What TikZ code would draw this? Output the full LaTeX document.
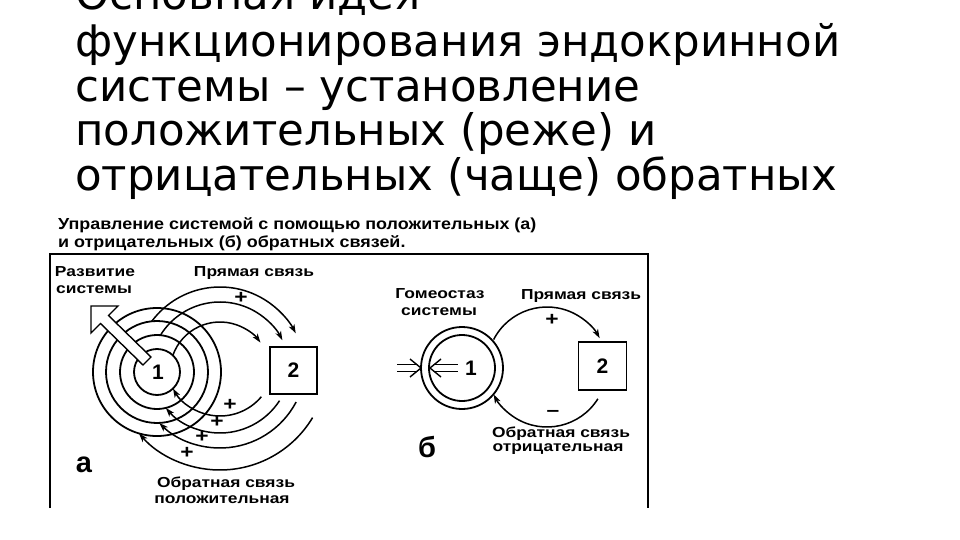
\documentclass[tikz,border=0pt]{standalone}
\usepackage{fontspec}
\setmainfont{DejaVu Sans}
\newfontfamily\capfont[FakeStretch=1.12]{Liberation Sans}
\newfontfamily\lblfont[FakeStretch=1.2]{Liberation Sans}
\newfontfamily\numfont{Liberation Sans}
\usetikzlibrary{arrows.meta,calc}
\tikzset{
  titletext/.style={anchor=base west, inner sep=0pt, font=\fontsize{43.5}{44}\selectfont},
  captext/.style={anchor=base west, inner sep=0pt, font=\capfont\bfseries\fontsize{16}{18}\selectfont},
  lbl/.style={inner sep=0pt, align=center, font=\lblfont\bfseries\fontsize{14.5}{18}\selectfont},
  numlbl/.style={inner sep=0pt, font=\numfont\bfseries\fontsize{21}{22}\selectfont},
  letterlbl/.style={inner sep=0pt, font=\numfont\bfseries\fontsize{29}{30}\selectfont},
  sign/.style={inner sep=0pt, font=\lblfont\bfseries\fontsize{19}{19}\selectfont},
  ring/.style={draw, line width=1.8pt},
  conn/.style={draw, line width=1.5pt, -{Stealth[length=9pt,width=6pt,inset=2.5pt]}},
  frameline/.style={draw, line width=1.8pt},
  hollow/.style={draw, line width=1.4pt, fill=white, line join=miter},
  boxnode/.style={draw, line width=1.8pt, minimum size=47pt, inner sep=0pt, font=\numfont\bfseries\fontsize{21}{22}\selectfont}
}
\begin{document}
\begin{tikzpicture}[x=1pt,y=1pt]
\path[use as bounding box, fill=white] (0,0) rectangle (960,-540);

% title
\node[titletext] (t1) at (75,-10) {Основная идея};
\node[titletext] (t2) at (75,-57) {функционирования эндокринной};
\node[titletext] (t3) at (75,-102) {системы – установление};
\node[titletext] (t4) at (75,-146) {положительных (реже) и};
\node[titletext] (t5) at (75,-190) {отрицательных (чаще) обратных};

% caption
\node[captext] (cap1) at (58,-229) {Управление системой с помощью положительных (а)};
\node[captext] (cap2) at (58,-247) {и отрицательных (б) обратных связей.};

% frame
\coordinate (fbl) at (50,-508);
\coordinate (ftl) at (50,-254);
\coordinate (ftr) at (648,-254);
\coordinate (fbr) at (648,-508);
\draw[frameline] (fbl) -- (ftl) -- (ftr) -- (fbr);

% ===== diagram a =====
\coordinate (A1) at (157,-372);
\coordinate (C2) at (220,-372);
\coordinate (C3) at (220,-362);
\draw[ring] (A1) circle[radius=37];
\draw[ring] (A1) circle[radius=51];
\draw[ring] (A1) circle[radius=64];
\node[ring, circle, minimum size=46pt, inner sep=0pt] (a1) at (A1) {};
\node[boxnode] (a2) at (293.5,-370.5) {2};

% forward arcs
\draw[conn] ($(C2)+(160.54:50)$) arc[start angle=160.54, end angle=36, radius=50];
\draw[conn] ($(C2)+(148.25:70)$) arc[start angle=148.25, end angle=27, radius=70];
\draw[conn] ($(C2)+(143.36:85)$) arc[start angle=143.36, end angle=27, radius=85];
% return arcs
\draw[conn] ($(C3)+(-40:54)$) arc[start angle=-40, end angle=-150.55, radius=54];
\draw[conn] ($(C3)+(-33:71)$) arc[start angle=-33, end angle=-139.7, radius=71];
\draw[conn] ($(C3)+(-27.7:86)$) arc[start angle=-27.7, end angle=-134.9, radius=86];
\draw[conn] ($(C3)+(-31:108)$) arc[start angle=-31, end angle=-138.6, radius=108];

% hollow development arrow
\draw[hollow] (91,-306) -- (118,-306) -- (108.5,-315.5) -- (151,-357) -- (143,-365) -- (100.5,-323.5) -- (91,-333) -- cycle;
\node[numlbl] (a1t) at (158,-372) {1};

\node[lbl] (razv) at (95,-271.5) {Развитие};
\node[lbl] (razv2) at (94,-290) {системы};
\node[lbl] (pra) at (254,-273) {Прямая связь};
\node[sign] (pa0) at (241,-298) {+};
\node[sign] (pa1) at (230,-405) {+};
\node[sign] (pa2) at (217,-422) {+};
\node[sign] (pa3) at (202,-437) {+};
\node[sign] (pa4) at (187,-453) {+};
\node[lbl] (obra) at (226,-484) {Обратная связь};
\node[lbl] (obra2) at (222,-500) {положительная};
\node[letterlbl] (la) at (84,-465) {а};

% ===== diagram b =====
\coordinate (B1) at (462,-368);
\coordinate (CB) at (547,-367);
\draw[ring] (B1) circle[radius=33];
\node[ring, circle, minimum size=82pt, inner sep=0pt] (b1) at (B1) {};
\node[numlbl] (b1t) at (471,-368) {1};
\node[boxnode, minimum size=48pt] (b2) at (602.5,-366) {2};
\draw[conn] ($(CB)+(152.8:60)$) arc[start angle=152.8, end angle=28.7, radius=60];
\draw[conn] ($(CB)+(-32:60)$) arc[start angle=-32, end angle=-152.8, radius=60];

% double arrows
\draw[line width=1.4pt] (410,-359) -- (421,-368) -- (410,-377);
\draw[line width=1.4pt] (397,-364.5) -- (416.7,-364.5);
\draw[line width=1.4pt] (397,-371.5) -- (416.7,-371.5);
\draw[line width=1.4pt] (441,-359) -- (430,-368) -- (441,-377);
\draw[line width=1.4pt] (434.3,-364.5) -- (458,-364.5);
\draw[line width=1.4pt] (434.3,-371.5) -- (458,-371.5);

\node[lbl] (gom) at (440,-294) {Гомеостаз};
\node[lbl] (gom2) at (439,-312) {системы};
\node[lbl] (prb) at (581,-296) {Прямая связь};
\node[sign] (pb) at (552,-320) {+};
\node[sign] (mb) at (553,-413) {–};
\node[lbl] (obrb) at (561,-434) {Обратная связь};
\node[lbl] (obrb2) at (558,-449) {отрицательная};
\node[letterlbl] (lb) at (427,-447) {б};
\end{tikzpicture}
\end{document}
